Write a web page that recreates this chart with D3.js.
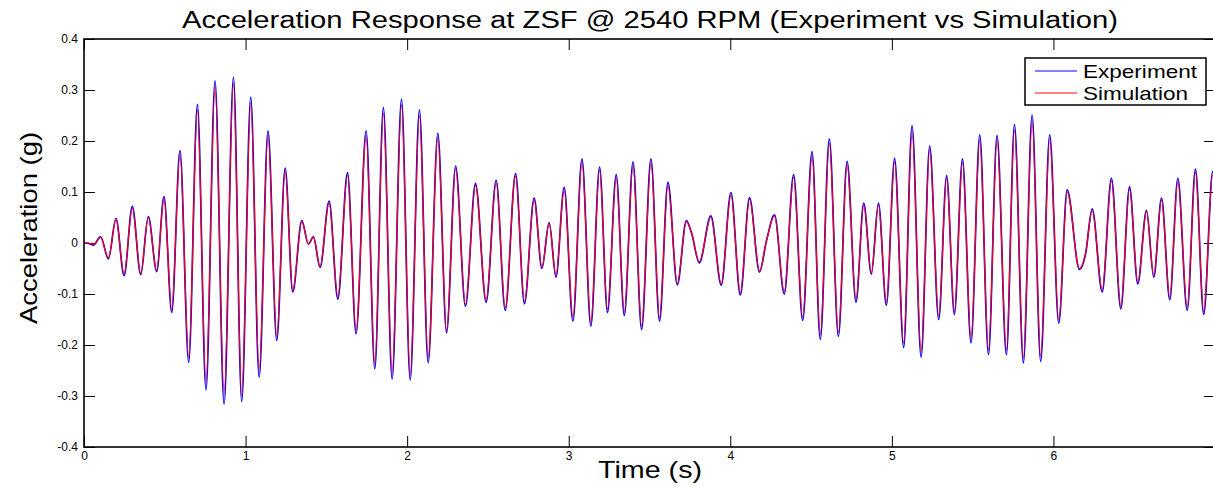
<!DOCTYPE html>
<html>
<head>
<meta charset="utf-8">
<script src="https://cdn.jsdelivr.net/npm/d3@7"></script>
<style>
  body { margin: 0; background: #fff; }
  svg { display: block; font-family: "Liberation Sans", Arial, Helvetica, sans-serif; }
  .axis text { font-size: 12px; fill: #000; }
  .axis line { stroke: #000; stroke-width: 1; }
</style>
</head>
<body>
<svg width="1213" height="486"></svg>
<script>
// peaks and troughs (time in s, acceleration in g)
var timeS = [0.000, 0.030, 0.058, 0.103, 0.151, 0.198, 0.248, 0.299, 0.351, 0.398,
  0.450, 0.495, 0.543, 0.594, 0.648, 0.702, 0.755, 0.811, 0.867, 0.925,
  0.976, 1.032, 1.084, 1.139, 1.193, 1.245, 1.292, 1.348, 1.389, 1.420,
  1.461, 1.517, 1.571, 1.631, 1.684, 1.746, 1.800, 1.853, 1.907, 1.965,
  2.019, 2.076, 2.130, 2.190, 2.244, 2.300, 2.361, 2.423, 2.489, 2.551,
  2.607, 2.671, 2.726, 2.786, 2.834, 2.879, 2.921, 2.972, 3.026, 3.082,
  3.137, 3.191, 3.240, 3.294, 3.344, 3.398, 3.451, 3.509, 3.562, 3.614,
  3.672, 3.728, 3.760, 3.808, 3.880, 3.944, 4.004, 4.062, 4.119, 4.181,
  4.223, 4.274, 4.334, 4.392, 4.448, 4.506, 4.557, 4.613, 4.669, 4.723,
  4.778, 4.826, 4.873, 4.917, 4.966, 5.017, 5.073, 5.125, 5.181, 5.234,
  5.290, 5.339, 5.387, 5.437, 5.490, 5.544, 5.598, 5.651, 5.709, 5.759,
  5.814, 5.868, 5.921, 5.977, 6.033, 6.085, 6.161, 6.198, 6.240, 6.302,
  6.359, 6.417, 6.471, 6.522, 6.576, 6.621, 6.669, 6.720, 6.770, 6.828,
  6.879, 6.930, 6.986, 7.000];

var experimentG = [0.000, -0.001, -0.004, 0.012, -0.031, 0.048, -0.064, 0.072, -0.062, 0.052,
  -0.056, 0.091, -0.136, 0.181, -0.234, 0.272, -0.288, 0.318, -0.316, 0.325,
  -0.311, 0.286, -0.263, 0.220, -0.191, 0.147, -0.096, 0.044, -0.002, 0.012,
  -0.048, 0.082, -0.110, 0.138, -0.178, 0.220, -0.247, 0.266, -0.267, 0.282,
  -0.269, 0.261, -0.235, 0.215, -0.176, 0.151, -0.124, 0.117, -0.116, 0.123,
  -0.132, 0.136, -0.119, 0.088, -0.050, 0.040, -0.067, 0.109, -0.153, 0.165,
  -0.163, 0.149, -0.136, 0.134, -0.142, 0.159, -0.170, 0.165, -0.153, 0.119,
  -0.082, 0.044, 0.020, -0.039, 0.053, -0.083, 0.099, -0.102, 0.089, -0.057,
  0.003, 0.055, -0.100, 0.134, -0.152, 0.179, -0.189, 0.204, -0.183, 0.160,
  -0.116, 0.078, -0.061, 0.078, -0.122, 0.166, -0.205, 0.230, -0.224, 0.190,
  -0.150, 0.132, -0.140, 0.165, -0.196, 0.212, -0.219, 0.211, -0.219, 0.232,
  -0.235, 0.251, -0.232, 0.212, -0.157, 0.104, -0.052, -0.023, 0.067, -0.096,
  0.127, -0.129, 0.110, -0.080, 0.064, -0.067, 0.088, -0.111, 0.127, -0.132,
  0.145, -0.140, 0.140, 0.128];

var simulationG = [0.000, 0.000, -0.003, 0.011, -0.029, 0.046, -0.061, 0.069, -0.060, 0.050,
  -0.054, 0.088, -0.132, 0.176, -0.225, 0.261, -0.274, 0.307, -0.297, 0.313,
  -0.300, 0.275, -0.251, 0.212, -0.183, 0.142, -0.093, 0.043, -0.002, 0.012,
  -0.046, 0.079, -0.106, 0.133, -0.171, 0.210, -0.238, 0.254, -0.256, 0.271,
  -0.260, 0.251, -0.225, 0.207, -0.173, 0.146, -0.121, 0.113, -0.112, 0.119,
  -0.127, 0.131, -0.115, 0.085, -0.048, 0.039, -0.064, 0.105, -0.146, 0.159,
  -0.156, 0.143, -0.130, 0.129, -0.136, 0.152, -0.163, 0.158, -0.147, 0.114,
  -0.080, 0.042, 0.020, -0.037, 0.051, -0.080, 0.095, -0.098, 0.086, -0.055,
  0.003, 0.053, -0.096, 0.129, -0.146, 0.172, -0.180, 0.196, -0.176, 0.154,
  -0.112, 0.075, -0.059, 0.075, -0.117, 0.159, -0.196, 0.219, -0.214, 0.183,
  -0.144, 0.128, -0.135, 0.158, -0.188, 0.203, -0.210, 0.203, -0.210, 0.222,
  -0.225, 0.240, -0.222, 0.204, -0.151, 0.100, -0.050, -0.022, 0.064, -0.092,
  0.122, -0.124, 0.106, -0.077, 0.062, -0.064, 0.085, -0.107, 0.122, -0.127,
  0.139, -0.135, 0.135, 0.124];

var seriesNames = ["Experiment", "Simulation"];
var seriesColors = ["#0000ff", "#ff0000"];

var xTicks = [0, 1, 2, 3, 4, 5, 6];
var xTickLabels = ["0", "1", "2", "3", "4", "5", "6"];
var yTicks = [-0.4, -0.3, -0.2, -0.1, 0, 0.1, 0.2, 0.3, 0.4];
var yTickLabels = ["-0.4", "-0.3", "-0.2", "-0.1", "0", "0.1", "0.2", "0.3", "0.4"];

var svg = d3.select("svg"),
  margin = {top: 39, left: 84},
  width = 1131,
  height = 408,
  tick = 11;

var x = d3.scaleLinear().domain([0, 7]).range([0, width]),
  y = d3.scaleLinear().domain([-0.4, 0.4]).range([height, 0]);

svg.append("rect").attr("width", 1213).attr("height", 486).attr("fill", "#fff");

var g = svg.append("g")
  .attr("transform", "translate(" + margin.left + "," + margin.top + ")");

g.append("clipPath").attr("id", "plotclip")
  .append("rect").attr("width", width).attr("height", height);

// ticks point inward on all four sides, like matlab
g.append("g")
  .attr("class", "axis")
  .attr("transform", "translate(0," + height + ")")
  .call(d3.axisBottom(x).tickValues(xTicks)
    .tickFormat(function(d, i) { return xTickLabels[i]; })
    .tickSizeInner(-tick).tickSizeOuter(0).tickPadding(4));

g.append("g")
  .attr("class", "axis")
  .call(d3.axisTop(x).tickValues(xTicks).tickFormat("")
    .tickSizeInner(-tick).tickSizeOuter(0));

g.append("g")
  .attr("class", "axis")
  .call(d3.axisLeft(y).tickValues(yTicks)
    .tickFormat(function(d, i) { return yTickLabels[i]; })
    .tickSizeInner(-tick).tickSizeOuter(0).tickPadding(6));

g.append("g")
  .attr("class", "axis")
  .attr("transform", "translate(" + width + ",0)")
  .call(d3.axisRight(y).tickValues(yTicks).tickFormat("")
    .tickSizeInner(-tick).tickSizeOuter(0));

g.selectAll(".axis .domain").remove();

var series = [
  timeS.map(function(t, i) { return [t, experimentG[i]]; }),
  timeS.map(function(t, i) { return [t, simulationG[i]]; })
];

var line = d3.line()
  .x(function(d) { return x(d[0]); })
  .y(function(d) { return y(d[1]); })
  .curve(d3.curveMonotoneX);

g.append("g")
  .attr("clip-path", "url(#plotclip)")
  .selectAll("path")
  .data(series)
  .enter().append("path")
  .attr("d", line)
  .attr("fill", "none")
  .attr("stroke", function(d, i) { return seriesColors[i]; })
  .attr("stroke-width", function(d, i) { return i === 0 ? 1.7 : 1.2; })
  .attr("stroke-linejoin", "round");

// axes box
g.append("rect")
  .attr("width", width).attr("height", height)
  .attr("fill", "none").attr("stroke", "#000").attr("stroke-width", 1.6);

// legend
var legend = svg.append("g").attr("transform", "translate(1025,58)");
legend.append("rect")
  .attr("width", 181).attr("height", 47)
  .attr("fill", "#fff").attr("stroke", "#000").attr("stroke-width", 1.5);
legend.selectAll("line")
  .data(seriesNames)
  .enter().append("line")
  .attr("x1", 10).attr("x2", 52)
  .attr("y1", function(d, i) { return 13 + i * 22; })
  .attr("y2", function(d, i) { return 13 + i * 22; })
  .attr("stroke", function(d, i) { return seriesColors[i]; })
  .attr("stroke-width", 1.2);
legend.selectAll("text")
  .data(seriesNames)
  .enter().append("text")
  .attr("x", 58)
  .attr("y", function(d, i) { return 20 + i * 22; })
  .attr("font-size", 19)
  .attr("textLength", function(d, i) { return i === 0 ? 114 : 105; })
  .attr("lengthAdjust", "spacingAndGlyphs")
  .text(function(d) { return d; });

// titles
svg.append("text")
  .attr("x", 650).attr("y", 28)
  .attr("text-anchor", "middle")
  .attr("font-size", 23)
  .attr("textLength", 936).attr("lengthAdjust", "spacingAndGlyphs")
  .text("Acceleration Response at ZSF @ 2540 RPM (Experiment vs Simulation)");

svg.append("text")
  .attr("x", 650).attr("y", 478)
  .attr("text-anchor", "middle")
  .attr("font-size", 24)
  .attr("textLength", 104).attr("lengthAdjust", "spacingAndGlyphs")
  .text("Time (s)");

svg.append("text")
  .attr("transform", "translate(37,228) rotate(-90)")
  .attr("text-anchor", "middle")
  .attr("font-size", 24)
  .attr("textLength", 192).attr("lengthAdjust", "spacingAndGlyphs")
  .text("Acceleration (g)");
</script>
</body>
</html>
